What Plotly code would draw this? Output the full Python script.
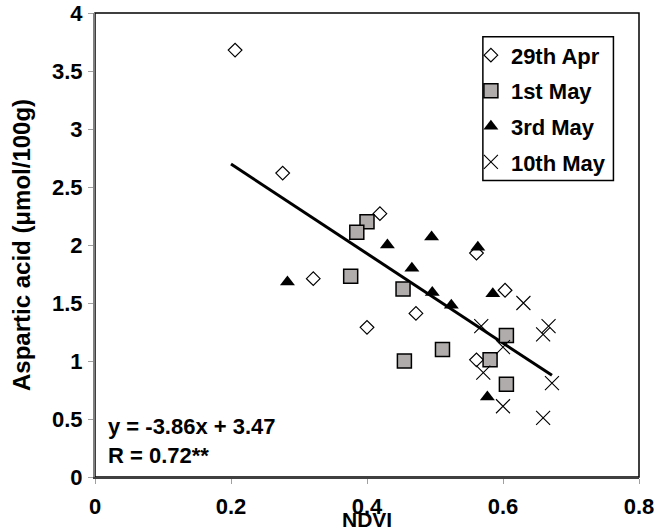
import plotly.graph_objects as go

# ---- data ----
apr29_x = [0.206, 0.276, 0.419, 0.321, 0.400, 0.472, 0.561, 0.603, 0.561]
apr29_y = [3.68, 2.62, 2.27, 1.71, 1.29, 1.41, 1.93, 1.61, 1.01]

may1_x = [0.400, 0.385, 0.376, 0.453, 0.455, 0.511, 0.581, 0.605, 0.605]
may1_y = [2.20, 2.11, 1.73, 1.62, 1.00, 1.10, 1.01, 0.80, 1.22]

may3_x = [0.283, 0.430, 0.495, 0.563, 0.466, 0.496, 0.524, 0.585, 0.577]
may3_y = [1.68, 2.00, 2.07, 1.98, 1.80, 1.59, 1.48, 1.58, 0.69]

may10_x = [0.630, 0.568, 0.667, 0.659, 0.600, 0.571, 0.600, 0.672, 0.659]
may10_y = [1.50, 1.30, 1.30, 1.23, 1.12, 0.90, 0.61, 0.81, 0.51]

slope = -3.86
intercept = 3.47
trend_x = [0.2, 0.672]
trend_y = [slope * v + intercept for v in trend_x]

x_ticks = [0, 0.2, 0.4, 0.6, 0.8]
y_ticks = [0, 0.5, 1, 1.5, 2, 2.5, 3, 3.5, 4]

FONT = "Liberation Sans"

fig = go.Figure()

fig.add_trace(go.Scatter(
    x=trend_x, y=trend_y, mode="lines", showlegend=False,
    line=dict(color="black", width=3), hoverinfo="skip"))

fig.add_trace(go.Scatter(
    x=apr29_x, y=apr29_y, mode="markers", name="29th Apr",
    marker=dict(symbol="diamond", size=10.5, color="white",
                line=dict(color="black", width=1.2))))
fig.add_trace(go.Scatter(
    x=may1_x, y=may1_y, mode="markers", name="1st May",
    marker=dict(symbol="square", size=14, color="#b0acac",
                line=dict(color="black", width=1.5))))
fig.add_trace(go.Scatter(
    x=may3_x, y=may3_y, mode="markers", name="3rd May",
    marker=dict(symbol="triangle-up", size=13, color="black",
                line=dict(color="black", width=0))))
fig.add_trace(go.Scatter(
    x=may10_x, y=may10_y, mode="markers", name="10th May",
    marker=dict(symbol="x-thin-open", size=14, color="black",
                line=dict(color="black", width=1.1))))

axis_common = dict(
    showgrid=False, zeroline=False, showline=True, linewidth=2,
    automargin=False,
    ticks="outside", ticklen=5, tickwidth=1, tickcolor="#a0a0a0",
    tickfont=dict(family=FONT, size=22, color="black", weight="bold"),
)

fig.update_xaxes(range=[0, 0.8], tickvals=x_ticks, linecolor="#404040",
                 ticklabelstandoff=4, **axis_common)
fig.update_yaxes(range=[0, 4], tickvals=y_ticks, linecolor="#808080",
                 ticklabelstandoff=1, **axis_common)

fig.update_layout(
    width=656, height=532,
    margin=dict(l=95, r=17, t=13, b=55, autoexpand=False),
    paper_bgcolor="white", plot_bgcolor="white",
    font=dict(family=FONT, color="black"),
    showlegend=True,
    legend=dict(
        x=0.691, y=0.954, xanchor="left", yanchor="top",
        bgcolor="rgba(0,0,0,0)", borderwidth=0,
        font=dict(family=FONT, size=22, color="black", weight="bold"),
        tracegroupgap=4, traceorder="grouped",
    ),
    shapes=[
        # plot-area frame
        dict(type="rect", xref="paper", yref="paper", x0=0, x1=1, y0=0, y1=1,
             line=dict(color="black", width=1.5), layer="below"),
        # legend box
        dict(type="rect", xref="paper", yref="paper",
             x0=0.713, x1=0.953, y0=0.639, y1=0.949,
             line=dict(color="black", width=1.5), fillcolor="white",
             layer="below"),
    ],
    annotations=[
        dict(text="y = -3.86x + 3.47<br>R = 0.72**", xref="paper", yref="paper",
             x=0.02, y=0.015, xanchor="left", yanchor="bottom", align="left",
             showarrow=False,
             font=dict(family=FONT, size=22, color="black", weight="bold")),
        dict(text="NDVI", xref="paper", yref="paper", x=0.5, y=-0.092,
             xanchor="center", yanchor="middle", showarrow=False,
             font=dict(family=FONT, size=21, color="black", weight="bold")),
        dict(text="Aspartic acid (μmol/100g)", xref="paper", yref="paper",
             x=-0.136, y=0.5, xanchor="center", yanchor="middle", textangle=-90,
             showarrow=False,
             font=dict(family=FONT, size=24, color="black", weight="bold")),
    ],
)

# legend item grouping so tracegroupgap adds spacing
for i, tr in enumerate(fig.data):
    tr.legendgroup = f"g{i}"

fig.write_html("out.html")
